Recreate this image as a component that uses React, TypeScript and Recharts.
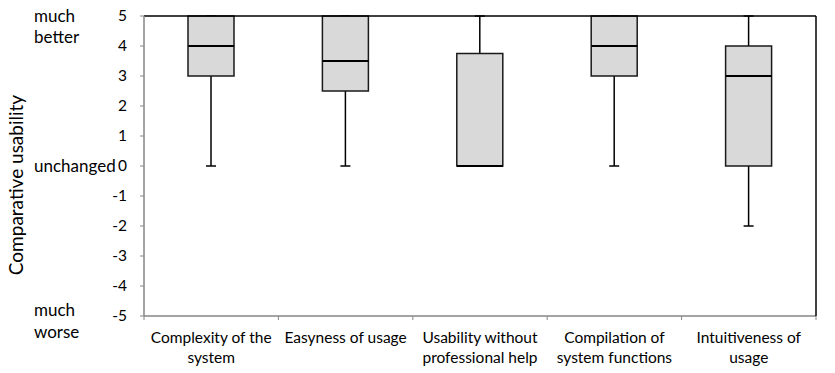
import React from 'react';
import { ComposedChart, Bar, Scatter, XAxis, YAxis, ReferenceLine, Label } from 'recharts';

const categories = [
  'Complexity of the system',
  'Easyness of usage',
  'Usability without professional help',
  'Compilation of system functions',
  'Intuitiveness of usage',
];
const labelLines = [
  ['Complexity of the', 'system'],
  ['Easyness of usage'],
  ['Usability without', 'professional help'],
  ['Compilation of', 'system functions'],
  ['Intuitiveness of', 'usage'],
];
const minValues = [0, 0, 0, 0, -2];
const q1Values = [3, 2.5, 0, 3, 0];
const medianValues = [4, 3.5, 0, 4, 3];
const q3Values = [5, 5, 3.75, 5, 4];
const maxValues = [5, 5, 5, 5, 5];
const yTicks = [5, 4, 3, 2, 1, 0, -1, -2, -3, -4, -5];
const scaleLabels: Record<string, string[]> = {
  '5': ['much', 'better'],
  '0': ['unchanged'],
  '-5': ['much', 'worse'],
};
const yTitle = 'Comparative usability';

// vertical offsets of the side labels relative to their tick
const scaleLabelOffsets: Record<string, number[]> = {
  '5': [0, 21],
  '0': [0],
  '-5': [-6, 16],
};

const FONT = 'Lato, "Open Sans", sans-serif';
const BOX_W = 46;
const CAP_W = 10;

const data = categories.map((name, i) => ({
  name,
  whisker: [minValues[i], maxValues[i]],
  box: [q1Values[i], q3Values[i]],
  median: medianValues[i],
}));

const WhiskerShape = (props: any) => {
  const { x, y, width, height } = props;
  if (x == null || y == null) return null;
  const cx = x + width / 2;
  const top = Math.min(y, y + height);
  const bottom = Math.max(y, y + height);
  return (
    <g stroke="#000" strokeWidth={1.5}>
      <line x1={cx} x2={cx} y1={top} y2={bottom} />
      <line x1={cx - CAP_W / 2} x2={cx + CAP_W / 2} y1={top} y2={top} />
      <line x1={cx - CAP_W / 2} x2={cx + CAP_W / 2} y1={bottom} y2={bottom} />
    </g>
  );
};

const MedianShape = (props: any) => {
  const { cx, cy } = props;
  if (cx == null || cy == null) return null;
  return <line x1={cx - BOX_W / 2} x2={cx + BOX_W / 2} y1={cy} y2={cy} stroke="#000" strokeWidth={2} />;
};

const CategoryTick = (props: any) => {
  const { x, y, payload } = props;
  const idx = payload.index ?? categories.indexOf(payload.value);
  const lines = labelLines[idx] || [payload.value];
  const half = payload.offset ?? 0;
  return (
    <g>
      <line x1={x - half} x2={x - half} y1={y} y2={y + 4} stroke="#868686" />
      {idx === categories.length - 1 && <line x1={x + half} x2={x + half} y1={y} y2={y + 4} stroke="#868686" />}
      {lines.map((t: string, i: number) => (
        <text key={i} x={x} y={y + 27 + i * 20} textAnchor="middle" fontSize={15.5} fill="#000" fontFamily={FONT}>
          {t}
        </text>
      ))}
    </g>
  );
};

const ValueTick = (props: any) => {
  const { x, y, payload } = props;
  const key = String(payload.value);
  const extra = scaleLabels[key];
  const offs = scaleLabelOffsets[key] || [];
  return (
    <g>
      <text x={x} y={y} dy="0.35em" textAnchor="end" fontSize={15.5} fill="#000" fontFamily={FONT}>
        {payload.value}
      </text>
      {extra &&
        extra.map((t, i) => (
          <text key={i} x={34} y={y + offs[i]} dy="0.35em" textAnchor="start" fontSize={17} fill="#000" fontFamily={FONT}>
            {t}
          </text>
        ))}
    </g>
  );
};

const TitleLabel = (props: any) => {
  const vb = props.viewBox;
  if (!vb) return null;
  const cx = vb.x + 15;
  const cy = vb.y + vb.height / 2 + 19;
  return (
    <text
      x={cx}
      y={cy}
      transform={`rotate(-90 ${cx} ${cy})`}
      textAnchor="middle"
      dominantBaseline="central"
      fontSize={19}
      fill="#000"
      fontFamily={FONT}
    >
      {props.value}
    </text>
  );
};

export default function App() {
  return (
    <div style={{ position: 'absolute', left: 0, top: 0, width: 835, height: 373, background: '#fff' }}>
      <ComposedChart width={835} height={373} data={data} margin={{ top: 16, right: 18, left: 0, bottom: 0 }}>
        <XAxis
          xAxisId="main"
          dataKey="name"
          type="category"
          height={57}
          interval={0}
          tickSize={0}
          tickMargin={0}
          tickLine={false}
          axisLine={{ stroke: '#868686', strokeWidth: 1.5 }}
          tick={<CategoryTick />}
        />
        <XAxis xAxisId="whisk" dataKey="name" type="category" hide />
        <YAxis
          yAxisId="left"
          type="number"
          domain={[-5, 5]}
          ticks={yTicks}
          interval={0}
          width={144}
          tickSize={4}
          tickMargin={13}
          axisLine={{ stroke: '#868686', strokeWidth: 1.5 }}
          tickLine={{ stroke: '#868686' }}
          tick={<ValueTick />}
        >
          <Label value={yTitle} content={TitleLabel} />
        </YAxis>
        <YAxis
          yAxisId="right"
          orientation="right"
          type="number"
          domain={[-5, 5]}
          width={1}
          tick={false}
          tickLine={false}
          axisLine={{ stroke: '#000', strokeWidth: 1.5 }}
        />
        <ReferenceLine xAxisId="main" yAxisId="left" y={5} stroke="#000" strokeWidth={1.5} />
        <Bar
          xAxisId="whisk"
          yAxisId="left"
          dataKey="whisker"
          barSize={CAP_W}
          shape={WhiskerShape}
          isAnimationActive={false}
        />
        <Bar
          xAxisId="main"
          yAxisId="left"
          dataKey="box"
          barSize={BOX_W}
          fill="#d9d9d9"
          stroke="#1a1a1a"
          strokeWidth={1.5}
          isAnimationActive={false}
        />
        <Scatter
          xAxisId="main"
          yAxisId="left"
          dataKey="median"
          shape={MedianShape}
          isAnimationActive={false}
        />
      </ComposedChart>
    </div>
  );
}
